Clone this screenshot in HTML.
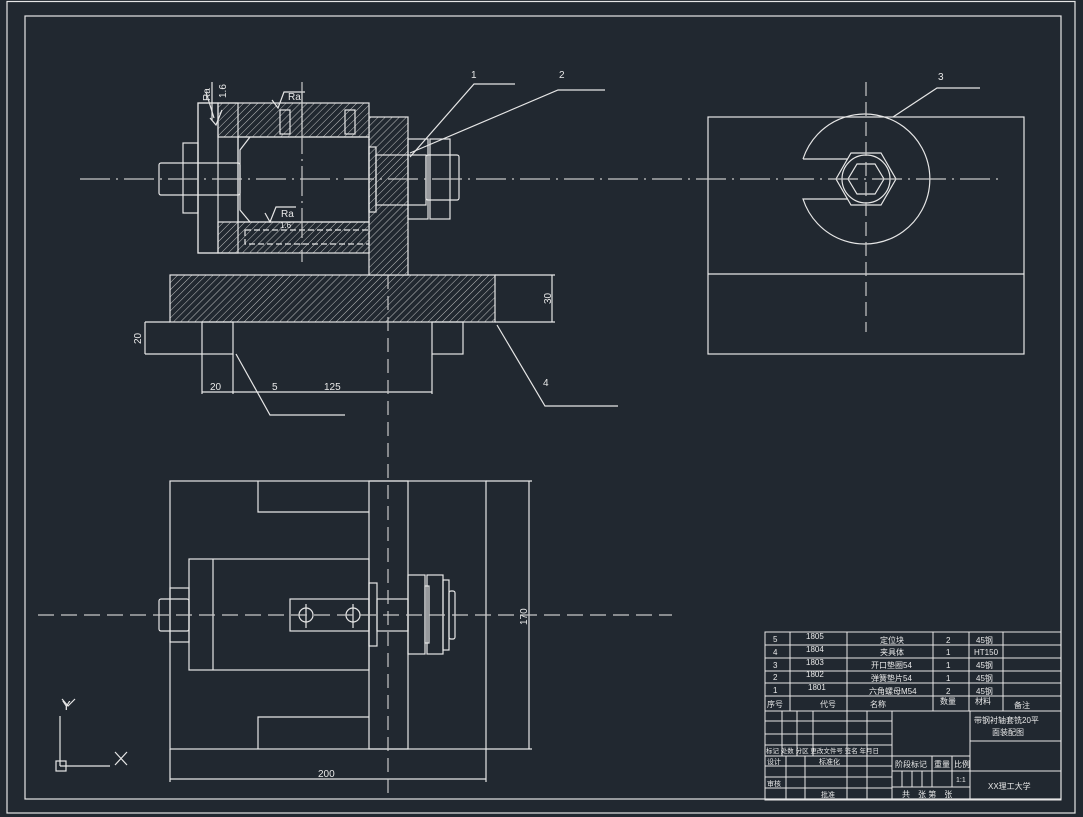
<!DOCTYPE html>
<html><head><meta charset="utf-8"><style>
html,body{margin:0;padding:0;background:#212830;}
svg{display:block}
text{font-family:"Liberation Sans","Noto Sans CJK SC",sans-serif;fill:#e8e8e8}
</style></head><body>
<svg width="1083" height="817" viewBox="0 0 1083 817" xmlns="http://www.w3.org/2000/svg">
<defs>
<pattern id="h" patternUnits="userSpaceOnUse" width="5" height="5" patternTransform="rotate(45)">
<rect width="5" height="5" fill="#212830"/><line x1="0" y1="0" x2="0" y2="5" stroke="#d0d0d0" stroke-width="0.9"/>
</pattern>
</defs>
<rect width="1083" height="817" fill="#212830"/>
<g fill="none" stroke="#e6e6e6" stroke-width="1.2">
<rect x="7" y="1.5" width="1068" height="811.5"/>
<rect x="25" y="16" width="1036" height="783"/>

<!-- front section view -->
<rect x="170" y="275" width="325" height="47" fill="url(#h)"/>
<rect x="369" y="117" width="39" height="158" fill="url(#h)"/>
<rect x="218" y="103" width="151" height="34" fill="url(#h)"/>
<rect x="218" y="222" width="151" height="31" fill="url(#h)"/>
<rect x="198" y="103" width="20" height="150"/>
<rect x="198" y="103" width="40" height="150"/>
<rect x="238" y="137" width="131" height="85"/>
<polyline points="250,137 240,150 240,210 250,222"/>
<rect x="159" y="163" width="81" height="32" rx="2"/>
<rect x="183" y="143" width="15" height="70"/>
<rect x="369" y="147" width="7" height="65"/>
<rect x="376" y="155" width="50" height="50"/>
<rect x="408" y="139" width="20" height="80"/>
<rect x="430" y="139" width="20" height="80"/>
<rect x="426" y="155" width="33" height="45" rx="2"/>
<rect x="280" y="110" width="10" height="24"/>
<rect x="345" y="110" width="10" height="24"/>
<rect x="245" y="230" width="124" height="14" stroke-dasharray="6 3"/>
<rect x="202" y="322" width="31" height="32"/>
<rect x="432" y="322" width="31" height="32"/>
<line x1="145" y1="322" x2="170" y2="322"/><line x1="145" y1="354" x2="202" y2="354"/>
<line x1="145" y1="322" x2="145" y2="354"/>
<line x1="495" y1="275" x2="555" y2="275"/><line x1="495" y1="322" x2="555" y2="322"/>
<line x1="552" y1="275" x2="552" y2="322"/>
<line x1="202" y1="354" x2="202" y2="394"/><line x1="233" y1="354" x2="233" y2="394"/>
<line x1="432" y1="354" x2="432" y2="394"/>
<line x1="202" y1="392" x2="432" y2="392"/>
<line x1="212" y1="82" x2="212" y2="120"/><polyline points="206,92 214,118"/>
<polyline points="272,100 278,108 284,92 305,92"/><line x1="302" y1="92" x2="302" y2="130"/>
<polyline points="265,213 270,222 276,207 296,207"/>
<polyline points="210,118 216,125 222,110"/>
<!-- leaders -->
<polyline points="410,157 474,84 515,84"/>
<polyline points="410,153 558,90 605,90"/>
<polyline points="497,325 545,406 618,406"/>
<polyline points="236,354 270,415 345,415"/>
<polyline points="893,117 937,88 980,88"/>

<!-- right view -->
<rect x="708" y="117" width="316" height="237"/>
<line x1="708" y1="274" x2="1024" y2="274"/>
<path d="M803,159 A65,65 0 1,1 803,199 L848,199 M848,159 L803,159"/>
<polygon points="896,179 881,205 851,205 836,179 851,153 881,153"/>
<polygon points="884,179 875,194 857,194 848,179 857,164 875,164"/>
<circle cx="866" cy="179" r="24"/>

<!-- top view -->
<rect x="170" y="481" width="316" height="268"/>
<rect x="369" y="481" width="39" height="268"/>
<polyline points="369,512 258,512 258,481"/>
<polyline points="369,717 258,717 258,749"/>
<rect x="189" y="559" width="180" height="111"/>
<line x1="213" y1="559" x2="213" y2="670"/>
<rect x="170" y="588" width="19" height="54"/>
<rect x="159" y="599" width="30" height="32" rx="2"/>
<rect x="290" y="599" width="79" height="32"/>
<circle cx="306" cy="615" r="7"/><circle cx="353" cy="615" r="7"/>
<line x1="306" y1="604" x2="306" y2="628"/><line x1="353" y1="604" x2="353" y2="628"/>
<rect x="369" y="583" width="8" height="63"/>
<rect x="377" y="599" width="31" height="32"/>
<rect x="408" y="575" width="17" height="79"/>
<rect x="427" y="575" width="16" height="79"/>
<rect x="425" y="586" width="4" height="57"/>
<rect x="443" y="580" width="6" height="70"/>
<rect x="449" y="591" width="6" height="48" rx="2"/>
<line x1="486" y1="481" x2="532" y2="481"/><line x1="486" y1="749" x2="532" y2="749"/>
<line x1="529" y1="481" x2="529" y2="749"/>
<line x1="170" y1="749" x2="170" y2="782"/><line x1="486" y1="749" x2="486" y2="782"/>
<line x1="170" y1="779" x2="486" y2="779"/>

<!-- UCS -->
<line x1="60" y1="716" x2="60" y2="766"/><line x1="60" y1="766" x2="110" y2="766"/>
<rect x="56" y="761" width="10" height="10"/>
<polyline points="62,699 68,706 75,699 M68,706 L68,712"/>
<path d="M115,752 L127,765 M127,752 L115,765"/>
</g>
<!-- center lines -->
<g stroke="#c8c8c8" stroke-width="1.2" fill="none">
<line x1="80" y1="179" x2="1000" y2="179" stroke-dasharray="30 6 2 6"/>
<line x1="866" y1="82" x2="866" y2="332" stroke-dasharray="14 6"/>
<line x1="388" y1="275" x2="388" y2="800" stroke-dasharray="14 7"/>
<line x1="38" y1="615" x2="672" y2="615" stroke-dasharray="16 7"/>
<line x1="302" y1="82" x2="302" y2="262" stroke-dasharray="30 5 2 5"/>
</g>
<g font-size="10">
<text x="471" y="78">1</text><text x="559" y="78">2</text><text x="938" y="80">3</text>
<text x="543" y="386">4</text><text x="272" y="390">5</text>
<text x="210" y="390">20</text><text x="324" y="390">125</text>
<text x="141" y="344" transform="rotate(-90 141 344)">20</text>
<text x="551" y="304" transform="rotate(-90 551 304)">30</text>
<text x="318" y="777">200</text>
<text x="527" y="625" transform="rotate(-90 527 625)">170</text>
<text x="288" y="100">Ra</text><text x="281" y="217">Ra</text>
<text x="210" y="101" transform="rotate(-90 210 101)">Ra</text>
<text x="226" y="98" transform="rotate(-90 226 98)">1.6</text>
<text x="280" y="228" font-size="8">1.6</text>
<text x="62" y="710" font-size="13">Y</text>
</g>

<!-- title block -->
<g fill="none" stroke="#e6e6e6" stroke-width="1">
<rect x="765" y="632" width="296" height="168"/>
<line x1="765" y1="645" x2="1061" y2="645"/><line x1="765" y1="658" x2="1061" y2="658"/>
<line x1="765" y1="671" x2="1061" y2="671"/><line x1="765" y1="683" x2="1061" y2="683"/>
<line x1="765" y1="696" x2="1061" y2="696"/><line x1="765" y1="711" x2="1061" y2="711"/>
<line x1="790" y1="632" x2="790" y2="711"/><line x1="847" y1="632" x2="847" y2="711"/>
<line x1="933" y1="632" x2="933" y2="711"/><line x1="969" y1="632" x2="969" y2="711"/>
<line x1="1003" y1="632" x2="1003" y2="711"/>
<line x1="765" y1="721" x2="892" y2="721"/><line x1="765" y1="734" x2="892" y2="734"/>
<line x1="765" y1="745" x2="892" y2="745"/><line x1="765" y1="756" x2="970" y2="756"/>
<line x1="765" y1="766" x2="892" y2="766"/><line x1="765" y1="777" x2="892" y2="777"/>
<line x1="765" y1="788" x2="892" y2="788"/>
<line x1="782" y1="711" x2="782" y2="756"/><line x1="797" y1="711" x2="797" y2="756"/>
<line x1="813" y1="711" x2="813" y2="756"/><line x1="847" y1="711" x2="847" y2="800"/>
<line x1="867" y1="711" x2="867" y2="800"/><line x1="892" y1="711" x2="892" y2="800"/>
<line x1="786" y1="756" x2="786" y2="800"/><line x1="805" y1="756" x2="805" y2="800"/>
<line x1="970" y1="711" x2="970" y2="800"/>
<line x1="970" y1="741" x2="1061" y2="741"/><line x1="892" y1="771" x2="1061" y2="771"/>
<line x1="892" y1="787" x2="970" y2="787"/>
<line x1="932" y1="756" x2="932" y2="787"/><line x1="952" y1="756" x2="952" y2="787"/>
<line x1="902" y1="771" x2="902" y2="787"/><line x1="912" y1="771" x2="912" y2="787"/><line x1="922" y1="771" x2="922" y2="787"/>
</g>
<g font-size="8">
<text x="773" y="642">5</text><text x="806" y="639">1805</text><text x="880" y="643">定位块</text><text x="946" y="643">2</text><text x="976" y="643">45钢</text>
<text x="773" y="655">4</text><text x="806" y="652">1804</text><text x="880" y="655">夹具体</text><text x="946" y="655">1</text><text x="974" y="655">HT150</text>
<text x="773" y="668">3</text><text x="806" y="665">1803</text><text x="871" y="668">开口垫圈54</text><text x="946" y="668">1</text><text x="976" y="668">45钢</text>
<text x="773" y="680">2</text><text x="806" y="677">1802</text><text x="871" y="681">弹簧垫片54</text><text x="946" y="681">1</text><text x="976" y="681">45钢</text>
<text x="773" y="693">1</text><text x="808" y="690">1801</text><text x="869" y="694">六角螺母M54</text><text x="946" y="694">2</text><text x="976" y="694">45钢</text>
<text x="767" y="707">序号</text><text x="820" y="707">代号</text><text x="870" y="707">名称</text><text x="940" y="704">数量</text><text x="975" y="704">材料</text><text x="1014" y="708">备注</text>
<text x="974" y="723">带钢衬轴套铣20平</text><text x="992" y="735">面装配图</text>
<text x="766" y="753" font-size="6.5">标记 处数 分区 更改文件号 签名 年月日</text>
<text x="767" y="764" font-size="7">设计</text><text x="819" y="764" font-size="7">标准化</text>
<text x="767" y="786" font-size="7">审核</text><text x="821" y="797" font-size="7">批准</text>
<text x="895" y="767">阶段标记</text><text x="934" y="767">重量</text><text x="954" y="767">比例</text>
<text x="956" y="782" font-size="7">1:1</text>
<text x="902" y="797">共　张 第　张</text>
<text x="988" y="789">XX理工大学</text>
</g>
</svg>
</body></html>
